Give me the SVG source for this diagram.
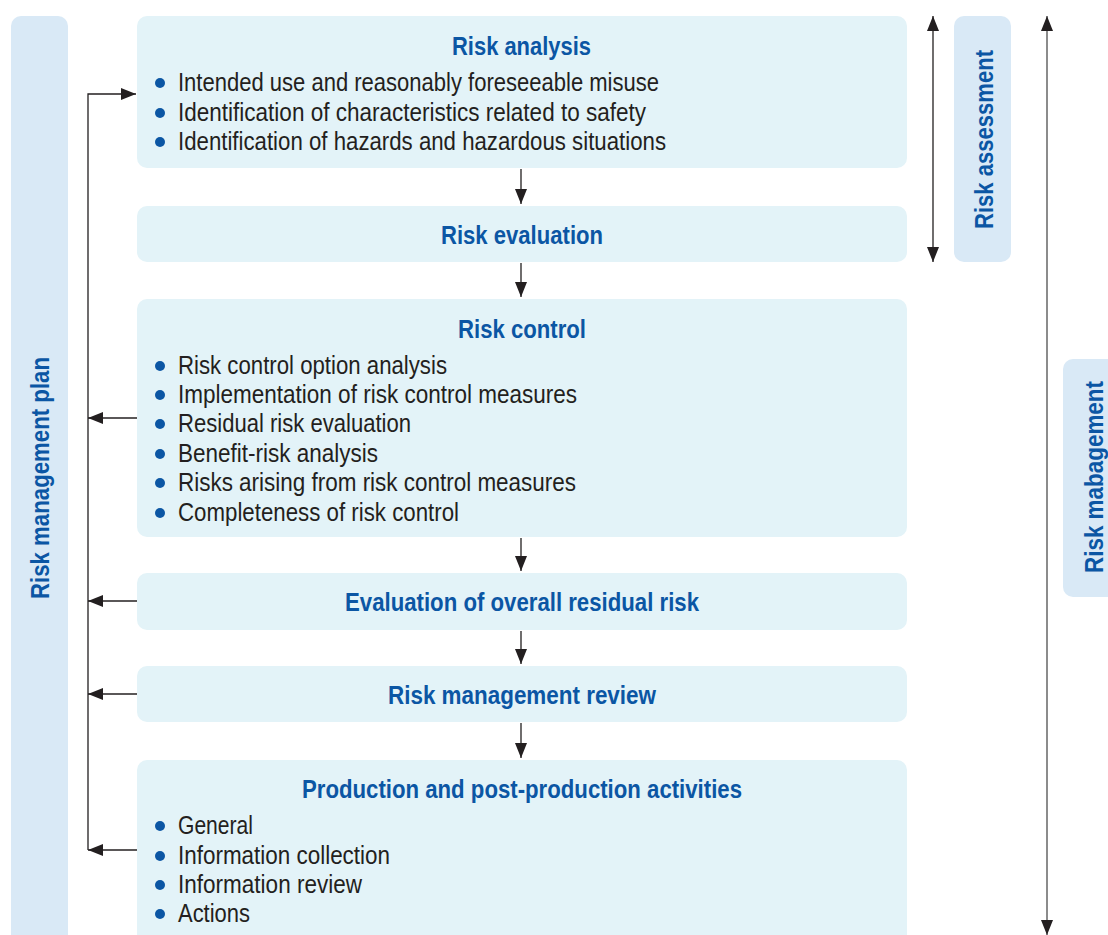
<svg xmlns="http://www.w3.org/2000/svg" width="1108" height="935" viewBox="0 0 1108 935">
  <defs>
    <marker id="arr" viewBox="0 0 15 12" refX="15" refY="6" markerWidth="15" markerHeight="12" markerUnits="userSpaceOnUse" orient="auto-start-reverse">
      <path d="M0,0 L15,6 L0,12 Z" fill="#231f20"/>
    </marker>
    <style>
      .box { fill: #e3f3f8; }
      .side { fill: #d9e9f6; }
      .title { font-family: "Liberation Sans", Arial, sans-serif; font-weight: bold; font-size: 25px; fill: #0b56a4; text-anchor: middle; }
      .vt { font-family: "Liberation Sans", Arial, sans-serif; font-weight: bold; font-size: 25px; fill: #0b56a4; text-anchor: middle; }
      .item { font-family: "Liberation Sans", Arial, sans-serif; font-size: 25px; fill: #231f20; }
      .dot { fill: #0b56a4; }
      .conn { fill: none; stroke: #231f20; stroke-width: 1.3; }
      .long { fill: none; stroke: #666; stroke-width: 1.5; }
    </style>
  </defs>

  <rect width="1108" height="935" fill="#ffffff"/>

  <!-- side bands -->
  <g id="plan">
    <rect class="side" x="11" y="16" width="57" height="940" rx="10"/>
    <text class="vt" transform="translate(49,478) rotate(-90)" textLength="242" lengthAdjust="spacingAndGlyphs">Risk management plan</text>
  </g>
  <g id="assessment">
    <rect class="side" x="954" y="16" width="57" height="246" rx="10"/>
    <text class="vt" transform="translate(993,139.5) rotate(-90)" textLength="179" lengthAdjust="spacingAndGlyphs">Risk assessment</text>
  </g>
  <g id="management">
    <rect class="side" x="1063" y="359" width="60" height="238" rx="10"/>
    <text class="vt" transform="translate(1103,477) rotate(-90)" textLength="192" lengthAdjust="spacingAndGlyphs">Risk mabagement</text>
  </g>

  <!-- process steps -->
  <g id="analysis">
    <rect class="box" x="137" y="16" width="770" height="152" rx="10"/>
    <text class="title" x="521.5" y="55" textLength="139" lengthAdjust="spacingAndGlyphs">Risk analysis</text>
    <circle class="dot" cx="160" cy="83" r="5"/>
    <text class="item" x="178" y="91" textLength="481" lengthAdjust="spacingAndGlyphs">Intended use and reasonably foreseeable misuse</text>
    <circle class="dot" cx="160" cy="113" r="5"/>
    <text class="item" x="178" y="121" textLength="468" lengthAdjust="spacingAndGlyphs">Identification of characteristics related to safety</text>
    <circle class="dot" cx="160" cy="142" r="5"/>
    <text class="item" x="178" y="150" textLength="488" lengthAdjust="spacingAndGlyphs">Identification of hazards and hazardous situations</text>
  </g>

  <g id="evaluation">
    <rect class="box" x="137" y="206" width="770" height="56" rx="10"/>
    <text class="title" x="522" y="244" textLength="162" lengthAdjust="spacingAndGlyphs">Risk evaluation</text>
  </g>

  <g id="control">
    <rect class="box" x="137" y="299" width="770" height="238" rx="10"/>
    <text class="title" x="522" y="338" textLength="128" lengthAdjust="spacingAndGlyphs">Risk control</text>
    <circle class="dot" cx="160" cy="366" r="5"/>
    <text class="item" x="178" y="374" textLength="269" lengthAdjust="spacingAndGlyphs">Risk control option analysis</text>
    <circle class="dot" cx="160" cy="395" r="5"/>
    <text class="item" x="178" y="403" textLength="399" lengthAdjust="spacingAndGlyphs">Implementation of risk control measures</text>
    <circle class="dot" cx="160" cy="424" r="5"/>
    <text class="item" x="178" y="432" textLength="233" lengthAdjust="spacingAndGlyphs">Residual risk evaluation</text>
    <circle class="dot" cx="160" cy="454" r="5"/>
    <text class="item" x="178" y="462" textLength="200" lengthAdjust="spacingAndGlyphs">Benefit-risk analysis</text>
    <circle class="dot" cx="160" cy="483" r="5"/>
    <text class="item" x="178" y="491" textLength="398" lengthAdjust="spacingAndGlyphs">Risks arising from risk control measures</text>
    <circle class="dot" cx="160" cy="513" r="5"/>
    <text class="item" x="178" y="521" textLength="281" lengthAdjust="spacingAndGlyphs">Completeness of risk control</text>
  </g>

  <g id="overall">
    <rect class="box" x="137" y="573" width="770" height="57" rx="10"/>
    <text class="title" x="522" y="611" textLength="354" lengthAdjust="spacingAndGlyphs">Evaluation of overall residual risk</text>
  </g>

  <g id="review">
    <rect class="box" x="137" y="666" width="770" height="56" rx="10"/>
    <text class="title" x="522" y="704" textLength="268" lengthAdjust="spacingAndGlyphs">Risk management review</text>
  </g>

  <g id="production">
    <rect class="box" x="137" y="760" width="770" height="200" rx="10"/>
    <text class="title" x="522" y="798" textLength="440" lengthAdjust="spacingAndGlyphs">Production and post-production activities</text>
    <circle class="dot" cx="160" cy="826" r="5"/>
    <text class="item" x="178" y="834" textLength="75" lengthAdjust="spacingAndGlyphs">General</text>
    <circle class="dot" cx="160" cy="856" r="5"/>
    <text class="item" x="178" y="864" textLength="212" lengthAdjust="spacingAndGlyphs">Information collection</text>
    <circle class="dot" cx="160" cy="885" r="5"/>
    <text class="item" x="178" y="893" textLength="184" lengthAdjust="spacingAndGlyphs">Information review</text>
    <circle class="dot" cx="160" cy="914" r="5"/>
    <text class="item" x="178" y="922" textLength="72" lengthAdjust="spacingAndGlyphs">Actions</text>
  </g>

  <!-- connectors -->
  <g id="connectors">
    <path class="conn" d="M521,169 V204" marker-end="url(#arr)"/>
    <path class="conn" d="M521,263 V297" marker-end="url(#arr)"/>
    <path class="conn" d="M521,538 V571" marker-end="url(#arr)"/>
    <path class="conn" d="M521,631 V664" marker-end="url(#arr)"/>
    <path class="conn" d="M521,723 V758" marker-end="url(#arr)"/>

    <!-- feedback loop into risk analysis -->
    <path class="conn" d="M88,850 V94 H136" marker-end="url(#arr)"/>
    <path class="conn" d="M137,418 H88" marker-end="url(#arr)"/>
    <path class="conn" d="M137,601 H88" marker-end="url(#arr)"/>
    <path class="conn" d="M137,694 H88" marker-end="url(#arr)"/>
    <path class="conn" d="M137,850 H88" marker-end="url(#arr)"/>

    <!-- scope arrows -->
    <path class="conn" d="M933,16 V262" marker-start="url(#arr)" marker-end="url(#arr)"/>
    <path class="long" d="M1047,16 V935" marker-start="url(#arr)" marker-end="url(#arr)"/>
  </g>
</svg>
